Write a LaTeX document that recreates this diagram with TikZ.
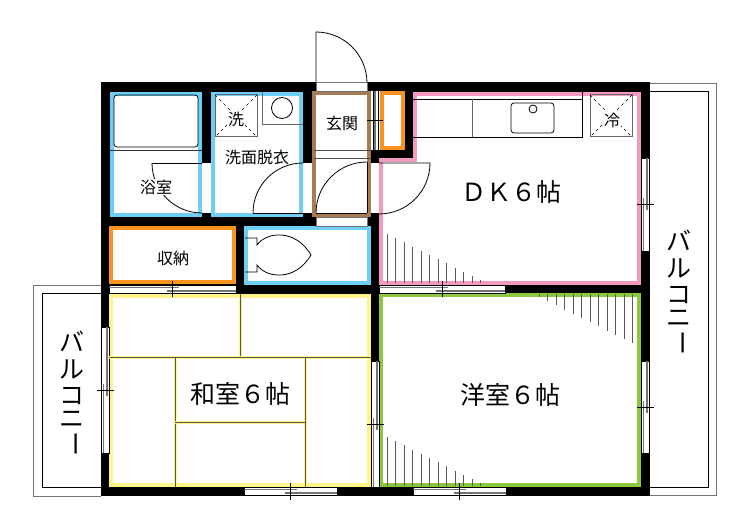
\documentclass[tikz,border=0pt]{standalone}
\usepackage{fontspec}
\setmainfont{Noto Sans CJK JP}

\definecolor{bathblue}{HTML}{6DCFF6}
\definecolor{storeorange}{HTML}{F7931E}
\definecolor{dkpink}{HTML}{F49AC1}
\definecolor{tatamiyellow}{HTML}{FFF48C}
\definecolor{entrybrown}{HTML}{A67C52}
\definecolor{roomgreen}{HTML}{8DC63F}

\begin{document}
\begin{tikzpicture}[
    x = 1pt,
    y = -1pt,
    room/.style = {fill = white, draw = #1, line width = 4pt},
    opening/.style = {fill = white, draw = none},
    window/.style = {fill = white, draw = black, line width = 0.7pt},
    rail/.style = {draw = black!55, line width = 1.1pt},
    fine/.style = {draw = black, line width = 0.8pt},
    tatami/.style = {draw = black!75!yellow, line width = 1pt,
      preaction = {draw = tatamiyellow, line width = 3pt}},
    hatch/.style = {draw = black!65, line width = 0.9pt},
    bigtxt/.style = {inner sep = 0pt, font = \fontsize{25}{25}\selectfont},
    smalltxt/.style = {inner sep = 0pt, font = \fontsize{16}{16}\selectfont},
    ]

    \useasboundingbox (0, 0) rectangle (750, 529);
    \fill[white] (0, 0) rectangle (750, 529);

    % balconies
    \draw[draw = black!55, line width = 0.9pt] (101, 285) -- (33, 285) -- (33, 496) -- (101, 496);
    \draw[fine] (101, 293) -- (42, 293) -- (42, 487) -- (101, 487);
    \draw[draw = black!55, line width = 0.9pt] (650, 83) -- (716, 83) -- (716, 495) -- (650, 495);
    \draw[fine] (650, 91) -- (708, 91) -- (708, 487) -- (650, 487);

    % walls, the rooms are cut out of it
    \fill[black] (101, 82) rectangle (650, 496);

    \begin{scope}
        % rooms (A,B) is the outside corner + half of the stroke
        \draw[room = bathblue] (112, 94) rectangle (200, 215);
        \draw[room = bathblue] (213, 94) rectangle (301, 215);
        \draw[room = entrybrown] (314, 93) rectangle (369, 215);
        \draw[room = storeorange] (382, 93) rectangle (403, 148);
        \draw[room = storeorange] (111, 228) rectangle (234, 282);
        \draw[room = bathblue] (246, 228) rectangle (369, 283);
        \draw[room = dkpink] (415, 94) -- (639, 94) -- (639, 283) -- (381, 283) -- (381, 160) -- (415, 160) -- cycle;
        \draw[room = tatamiyellow] (111, 296) rectangle (369, 485);
        \draw[room = roomgreen] (381, 295) rectangle (639, 485);
    \end{scope}

    % wall openings of the doors
    \fill[opening] (202, 163) rectangle (211, 213);
    \fill[opening] (303, 163) rectangle (312, 213);
    \fill[opening] (371, 163) rectangle (379, 213);
    \draw[window, draw = black!55] (316, 82) rectangle (367, 91);
    \draw[window, draw = black!55] (316, 217) rectangle (367, 226);

    % sliding windows, horizontal ones: x1/x2/top
    \foreach \xa/\xb/\ya in {109/236/285, 379/505/285, 244/337/487, 413/506/487}{
        \pgfmathsetmacro{\xc}{(\xa + \xb) / 2}
        \draw[window] (\xa, \ya) rectangle (\xb, \ya + 8.5);
        \draw[rail] (\xa, \ya + 2.5) -- (\xc + 6, \ya + 2.5);
        \draw[rail] (\xc - 6, \ya + 6) -- (\xb, \ya + 6);
        \draw[fine] (\xc, \ya - 4) -- (\xc, \ya + 12.5);
    }
    % vertical ones: x1/y1/y2
    \foreach \xa/\ya/\yb in {641/158/251, 641/361/453, 101/327/453, 371/361/487}{
        \pgfmathsetmacro{\yc}{(\ya + \yb) / 2}
        \draw[window] (\xa, \ya) rectangle (\xa + 8.5, \yb);
        \draw[rail] (\xa + 6, \ya) -- (\xa + 6, \yc + 6);
        \draw[rail] (\xa + 2.5, \yc - 6) -- (\xa + 2.5, \yb);
        \draw[fine] (\xa - 4, \yc) -- (\xa + 12.5, \yc);
    }
    % window next to the entrance
    \fill[opening] (371, 91) rectangle (380, 150);
    \draw[rail] (375, 91) -- (375, 150);
    \draw[fine] (378, 91) -- (378, 150);
    \draw[fine] (373, 91) -- (373, 150);
    \draw[fine] (367, 120) -- (383, 120);

    % doors
    \coordinate (entrytop) at (316, 82);
    \draw[fine] (entrytop) -- (316, 32) arc[start angle = -90, end angle = 0, radius = 51];
    \draw[fine] (367, 213) -- (367, 162);
    \draw[fine] (316, 213) arc[start angle = 180, end angle = 270, radius = 51];
    \draw[fine] (316, 213) -- (367, 213);
    \draw[fine] (253, 213) arc[start angle = 180, end angle = 270, radius = 50];
    \draw[fine] (253, 213) -- (303, 213);
    \draw[fine] (152, 163) -- (202, 163);
    \draw[fine] (152, 163) arc[start angle = 180, end angle = 90, radius = 50];
    \draw[fine] (379, 163) -- (430, 163) arc[start angle = 0, end angle = 90, radius = 51];

    % entrance step
    \draw[fine, draw = black!70] (314, 150) -- (371, 150);
    \draw[fine, draw = black!70] (314, 158) -- (371, 158);

    % bath
    \draw[fine, rounded corners = 3pt] (114, 95) rectangle (198, 147);
    \draw[fine, draw = black!80] (110, 150) -- (202, 150);

    % washing place
    \draw[draw = black!60, line width = 1pt] (215, 95) rectangle (257, 137);
    \draw[draw = black, dashed, line width = 0.4pt] (215, 95) -- (257, 137) (257, 95) -- (215, 137);
    \draw[draw = black!60, line width = 1pt] (262, 92) -- (262, 125) -- (303, 125);
    \draw[fine] (282, 108) circle (10.5pt);

    % kitchen
    \draw[fine] (413, 99) -- (582, 99);
    \draw[fine] (413, 137) -- (582, 137) -- (582, 92);
    \draw[draw = black!60, line width = 1pt] (472, 99) -- (472, 137);
    \draw[fine, rounded corners = 3pt] (511, 103) rectangle (554, 133);
    \draw[fine] (533, 109) circle (4pt);
    \draw[draw = black!60, line width = 1pt] (590, 95) rectangle (632, 137);
    \draw[draw = black, dashed, line width = 0.4pt] (590, 95) -- (632, 137) (632, 95) -- (590, 137);

    % toilet
    \draw[fine] (245, 238) -- (257, 238) -- (257, 245) .. controls (266, 232) and (295, 228) .. (311, 255)
        .. controls (295, 282) and (266, 278) .. (257, 265) -- (257, 272) -- (245, 272);

    % tatami
    \draw[tatami] (240, 294) -- (240, 358);
    \draw[tatami] (109, 358) -- (371, 358);
    \draw[tatami] (175, 358) -- (175, 487);
    \draw[tatami] (305, 358) -- (305, 487);
    \draw[tatami] (175, 422) -- (305, 422);

    % closet hatches
    \foreach \i in {0, 1, ..., 11}{
        \draw[hatch] (387 + 8.5 * \i, 234 + 4.2 * \i) -- (387 + 8.5 * \i, 283);
        \draw[hatch] (387 + 8.5 * \i, 437 + 4.2 * \i) -- (387 + 8.5 * \i, 486);
        \draw[hatch] (539 + 8.5 * \i, 294) -- (539 + 8.5 * \i, 297 + 4.2 * \i);
    }

    % labels
    \node[smalltxt, fill = white, inner sep = 1pt] (bath) at (156, 187) {浴室};
    \node[smalltxt, fill = white, inner sep = 1pt] (washer) at (236, 119) {洗};
    \node[smalltxt] (washroom) at (257, 157) {洗面脱衣};
    \node[smalltxt] (entry) at (342, 123) {玄関};
    \node[smalltxt] (storage) at (173, 258) {収納};
    \node[smalltxt, fill = white, inner sep = 1pt] (fridge) at (612, 120) {冷};
    \node[bigtxt] (dk) at (511, 192) {ＤＫ６帖};
    \node[bigtxt] (washitsu) at (240, 394) {和室６帖};
    \node[bigtxt] (yoshitsu) at (510, 395) {洋室６帖};

    % balcony text, top to bottom
    \foreach \n/\xa/\ya in {l/72/341, r/679/240}{
        \foreach \ch/\dy [count = \i] in {バ/0, ル/28, コ/55, ニ/78}{
            \node[bigtxt] (balcony\n\i) at (\xa, \ya + \dy) {\ch};
        }
        \node[bigtxt, rotate = -90] (balcony\n5) at (\xa, \ya + 103) {ー};
    }
\end{tikzpicture}
\end{document}
